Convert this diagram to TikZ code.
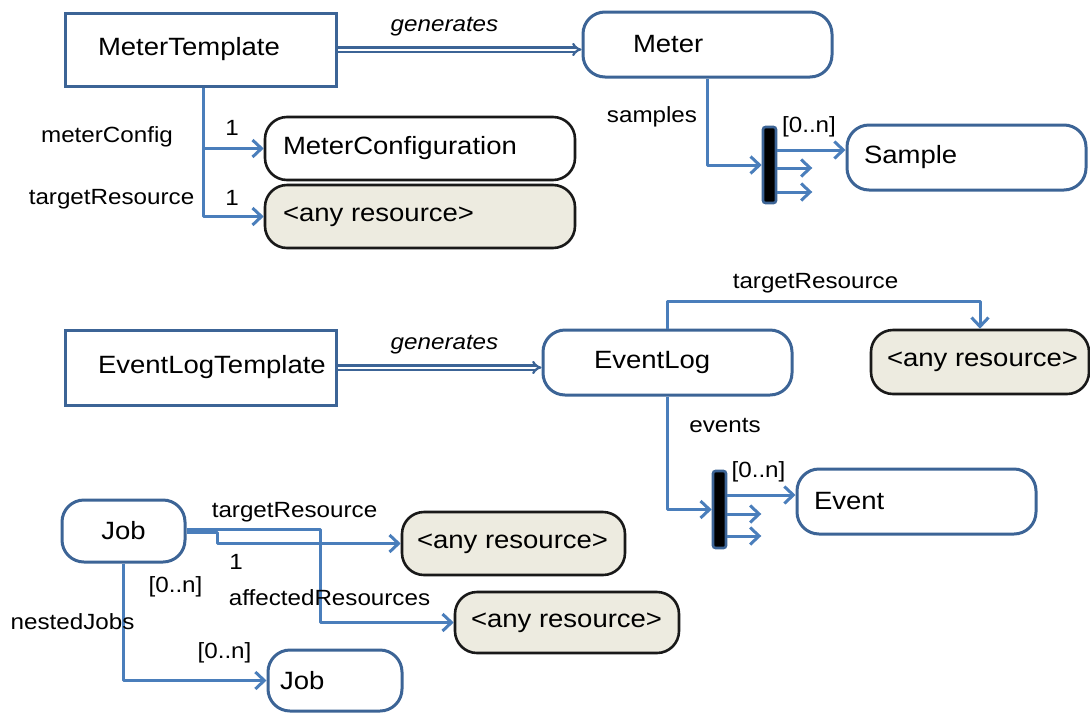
\documentclass[tikz,border=0pt]{standalone}
\usepackage{fontspec}
\setmainfont{Liberation Sans}[FakeStretch=1.1]
\usetikzlibrary{arrows.meta}
\definecolor{boxblue}{RGB}{60,100,150}
\definecolor{connblue}{RGB}{74,126,187}
\definecolor{beige}{RGB}{237,235,224}
\definecolor{darkline}{RGB}{25,25,25}
\newcommand\padtext[3]{\makebox[#2][l]{\hspace*{#1}#3}}
\tikzset{
  base/.style={inner sep=0pt, font=\fontsize{25}{30}\selectfont, line width=3pt},
  sbox/.style={base, draw=boxblue, fill=white},
  rbox/.style={base, draw=boxblue, fill=white, rounded corners=22pt},
  kbox/.style={base, draw=darkline, fill=white, rounded corners=22pt, line width=2.6pt},
  abox/.style={base, draw=darkline, fill=beige, rounded corners=22pt, line width=2.6pt},
  barbox/.style={draw=boxblue, fill=black, line width=2.6pt, rounded corners=2.5pt, minimum width=13pt, inner sep=0pt},
  conn/.style={draw=connblue, line width=3pt, line join=round, -{Straight Barb[length=9pt,width=17pt,line width=3pt]}},
  gen/.style={draw=boxblue, line width=2.2pt, double=white, double distance=2pt, -{Implies}},
  lbl/.style={inner sep=0pt, font=\fontsize{22}{26}\selectfont},
  glbl/.style={lbl, font=\fontsize{22}{26}\selectfont\itshape},
}
\begin{document}
\begin{tikzpicture}[x=1pt,y=-1pt]
\useasboundingbox[fill=white] (0,0) rectangle (1090,713);
% boxes
\node[sbox, minimum width=271pt, minimum height=73pt] (MT) at (200.5,49.5) {\padtext{33pt}{271pt}{MeterTemplate}};
\node[rbox, minimum width=249pt, minimum height=65pt] (Meter) at (707.5,44.5) {\padtext{50pt}{249pt}{Meter}};
\node[kbox, minimum width=310pt, minimum height=63pt] (MC) at (420,148.5) {\padtext{18pt}{310pt}{MeterConfiguration}};
\node[abox, minimum width=310pt, minimum height=63pt] (AR1) at (420,216.5) {\padtext{18pt}{310pt}{<any resource>}};
\node[rbox, minimum width=239pt, minimum height=65pt] (Sample) at (966.5,157.5) {\padtext{17pt}{239pt}{Sample}};
\node[barbox, minimum height=76pt] (bar1) at (769.5,165) {};

\node[sbox, minimum width=271pt, minimum height=75pt] (ELT) at (200.5,367.5) {\padtext{33pt}{271pt}{EventLogTemplate}};
\node[rbox, minimum width=249pt, minimum height=65pt] (EL) at (667.5,362.5) {\padtext{51pt}{249pt}{EventLog}};
\node[abox, minimum width=218pt, minimum height=64pt] (AR2) at (980,362) {\padtext{16pt}{218pt}{<any resource>}};
\node[rbox, minimum width=239pt, minimum height=65pt] (Event) at (916.5,501.5) {\padtext{17pt}{239pt}{Event}};
\node[barbox, minimum height=77pt] (bar2) at (719.5,509.5) {};

\node[rbox, minimum width=123pt, minimum height=62pt] (Job) at (123.5,531) {Job};
\node[abox, minimum width=223pt, minimum height=63pt] (AR3) at (513.5,543.5) {\padtext{15pt}{223pt}{<any resource>}};
\node[abox, minimum width=224pt, minimum height=61pt] (AR4) at (567,622.5) {\padtext{16pt}{224pt}{<any resource>}};
\node[rbox, minimum width=134pt, minimum height=61pt] (Job2) at (335,680.5) {\padtext{12pt}{134pt}{Job}};

% generates
\draw[gen] (MT.east) -- (MT.east -| Meter.west);
\draw[gen] (ELT.east) -- (ELT.east -| EL.west);
\node[glbl] (g1) at (444.5,27) {generates};
\node[glbl] (g2) at (444.5,345) {generates};

% MeterTemplate associations
\coordinate (mts) at ([xshift=2.5pt]MT.south);
\draw[conn] (mts) |- (AR1.west);
\draw[conn] (mts) |- (MC.west);
\node[lbl] (l1) at (107,137) {meterConfig};
\node[lbl] (l2) at (232,128) {1};
\node[lbl] (l3) at (111.5,199) {targetResource};
\node[lbl] (l4) at (232,198) {1};

% samples
\draw[conn] (Meter.south) |- (bar1.west);
\coordinate (b1a) at ([yshift=15pt]bar1.east);
\coordinate (b1b) at ([yshift=-3pt]bar1.east);
\coordinate (b1c) at ([yshift=-27pt]bar1.east);
\draw[conn] (b1a) -- (b1a -| Sample.west);
\draw[conn] (b1b) -- ++(35,0);
\draw[conn] (b1c) -- ++(35,0);
\node[lbl] (l5) at (652,117) {samples};
\node[lbl] (l6) at (809,127) {[0..n]};

% EventLog associations
\draw[conn] (EL.north) -- ++(0,-27) -| (AR2.north);
\node[lbl] (l7) at (815.5,283) {targetResource};
\draw[conn] (EL.south) |- (bar2.west);
\coordinate (b2a) at ([yshift=14.5pt]bar2.east);
\coordinate (b2b) at ([yshift=-4.5pt]bar2.east);
\coordinate (b2c) at ([yshift=-26.5pt]bar2.east);
\draw[conn] (b2a) -- (b2a -| Event.west);
\draw[conn] (b2b) -- ++(34,0);
\draw[conn] (b2c) -- ++(34,0);
\node[lbl] (l8) at (725,425) {events};
\node[lbl] (l9) at (758.5,472) {[0..n]};

% Job associations
\draw[conn] ([yshift=-1.5pt]Job.east) -- ++(31,0) |- (AR3.west);
\draw[conn] ([yshift=1.5pt]Job.east) -- ++(134,0) |- (AR4.west);
\draw[conn] (Job.south) |- (Job2.west);
\node[lbl] (l10) at (294.5,512) {targetResource};
\node[lbl] (l11) at (236,562) {1};
\node[lbl] (l12) at (175.5,587) {[0..n]};
\node[lbl] (l13) at (329.5,598) {affectedResources};
\node[lbl] (l14) at (72.5,622) {nestedJobs};
\node[lbl] (l15) at (224.5,653) {[0..n]};
\end{tikzpicture}
\end{document}
